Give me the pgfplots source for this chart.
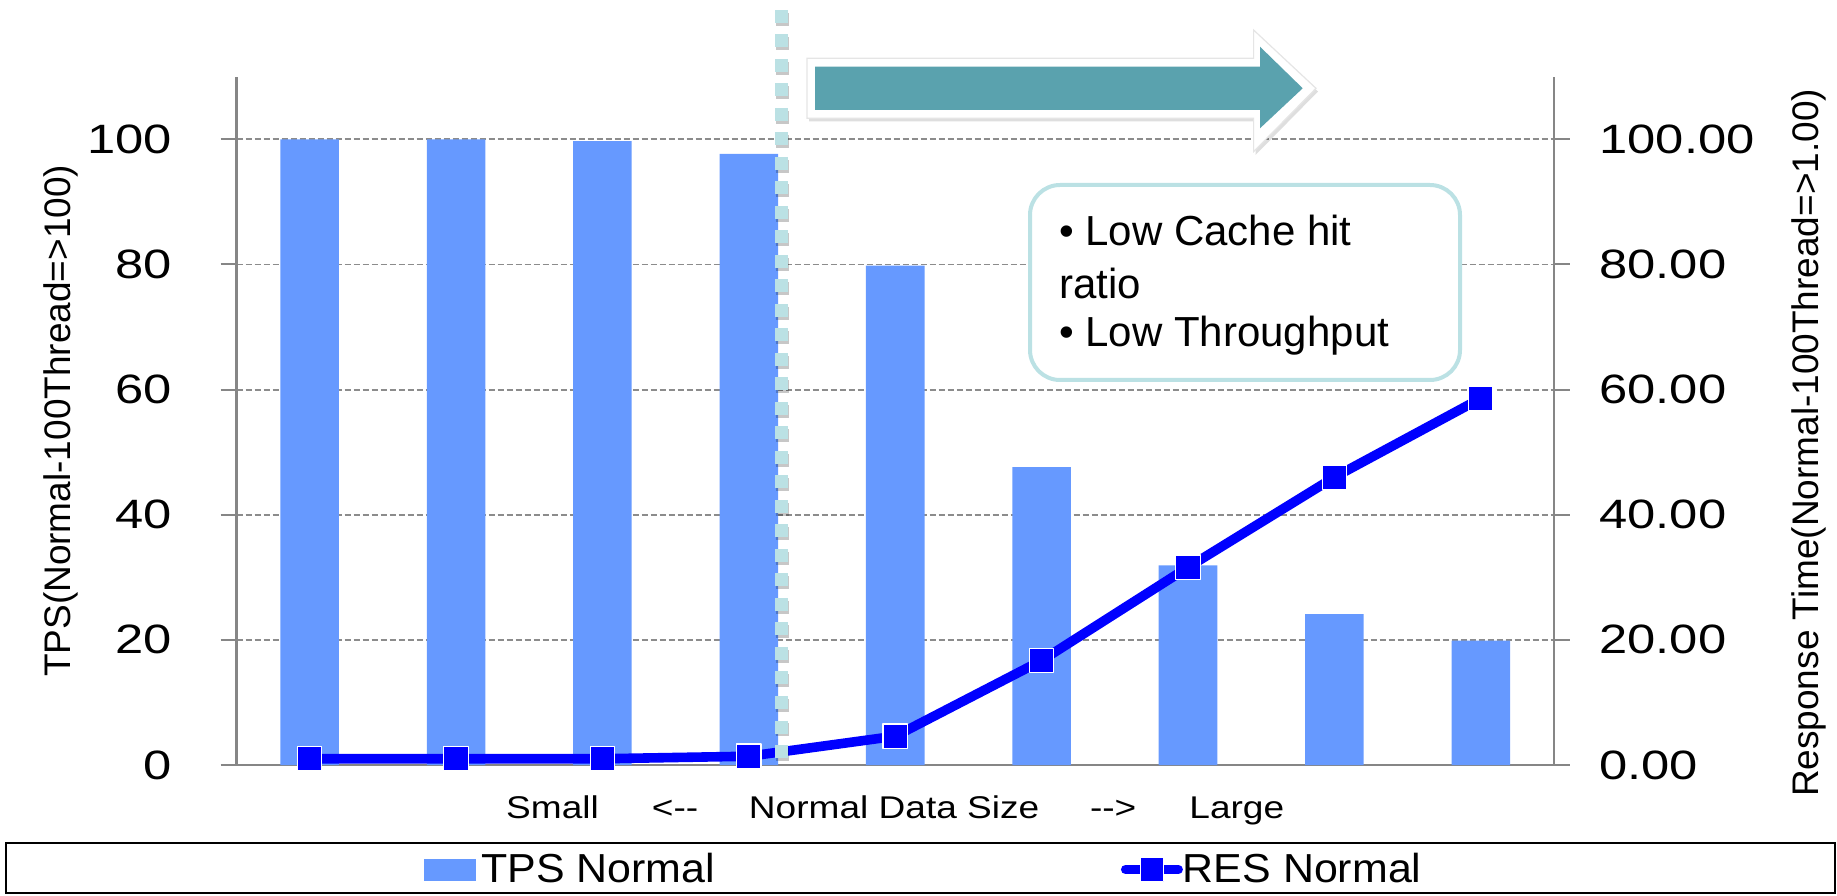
\documentclass[border=0pt]{standalone}
\usepackage{graphicx}
\usepackage{pgfplots}
\pgfplotsset{compat=1.18}
\usepackage{fontspec}
\setmainfont{Liberation Sans}
\definecolor{barblue}{HTML}{6699FF}
\definecolor{lineblue}{HTML}{0000FF}
\definecolor{axisgray}{HTML}{868686}
\definecolor{gridgray}{HTML}{8C8C8C}
\definecolor{arrowteal}{HTML}{5AA2AE}
\definecolor{lteal}{HTML}{BBE1E4}

\pgfplotstableread{
x tps
0 100
1 100
2 99.7
3 97.7
4 79.8
5 47.6
6 31.9
7 24.1
8 19.9
}\tpsdata
\pgfplotstableread{
x res
0 1.0
1 1.0
2 1.0
3 1.4
4 4.6
5 16.7
6 31.6
7 46.0
8 58.6
}\resdata

\pgfplotsset{
  /pgf/number format/assume math mode=true,
  common/.style={
    at={(118.25pt,65pt)}, anchor=south west,
    scale only axis, width=658.75pt, height=344.1pt,
    xmin=-0.5, xmax=8.5, ymin=0, ymax=110,
    ytick={0,20,40,60,80,100},
    axis line style={draw=axisgray, line width=1.3pt},
    tick style={draw=axisgray, line width=1pt},
    major tick length=8pt,
    yticklabel style={font=\fontsize{20.5pt}{24pt}\selectfont, inner sep=0pt},
  }
}

\begin{document}
\begin{tikzpicture}
\useasboundingbox (0,0) rectangle (918.5pt,447.5pt);

\begin{axis}[common,
  axis x line*=bottom, axis y line*=left,
  tick align=outside,
  xtick=\empty,
  ymajorgrids,
  major grid style={draw=gridgray, dash pattern=on 3pt off 1.5pt, line width=0.9pt},
  yticklabel={\scalebox{1.237}[1]{\pgfmathprintnumber{\tick}}},
  yticklabel style={xshift=-24.15pt},
  ylabel={TPS(Normal-100Thread=>100)},
  every axis y label/.style={at={(axis description cs:-0.1335,0.5)}, rotate=90, anchor=center, font=\fontsize{18.5pt}{22pt}\selectfont},
  xlabel={\scalebox{1.18}[1]{Small\hspace{22.5pt}<-{}-\hspace{21.5pt}Normal Data Size\hspace{21.5pt}-{}->\hspace{22.5pt}Large}},
  every axis x label/.style={at={(axis description cs:0.5,-0.07745)}, anchor=base, font=\fontsize{15.7pt}{19pt}\selectfont},
  ybar, bar width=0.4,
]
\addplot[fill=barblue, draw=none] table[x=x, y=tps] {\tpsdata};
\end{axis}

\begin{axis}[common,
  axis x line=none, axis y line*=right,
  tick align=outside,
  clip=false,
  yticklabel={\scalebox{1.237}[1]{\pgfmathprintnumber[fixed,fixed zerofill,precision=2]{\tick}}},
  yticklabel style={xshift=14.55pt},
  ylabel={Response Time(Normal-100Thread=>1.00)},
  every axis y label/.style={at={(axis description cs:1.1936,0.468)}, rotate=90, anchor=center, font=\fontsize{18.5pt}{22pt}\selectfont},
  legend columns=2,
  legend style={at={(axis description cs:0.14231,-0.15185)}, anchor=west,
    draw=none, fill=none, inner sep=0pt, outer sep=0pt,
    font=\fontsize{20.25pt}{24pt}\selectfont,
    nodes={inner sep=0pt},
    /tikz/every even column/.append style={column sep=203pt}},
]
\addlegendimage{legend image code/.code={
  \fill[barblue, draw=none] (0pt,-5.5pt) rectangle (26pt,5.5pt);
  \path[draw=none, fill=none] (0pt,0pt) -- (28.6pt,0pt);}}
\addlegendentry{\scalebox{1.06}[1]{TPS Normal}}
\addplot[draw=lineblue, line width=4.8pt, line join=round,
  mark=square*, mark size=6.1pt,
  mark options={fill=lineblue, draw=white, line width=0.6pt, solid},
  legend image code/.code={
    \draw[lineblue, line width=4.5pt, line cap=round] (2.25pt,0pt) -- (28.75pt,0pt);
    \fill[lineblue, draw=white, line width=0.5pt] (10pt,-6pt) rectangle (21.5pt,6pt);
    \path[draw=none, fill=none] (0pt,0pt) -- (30.5pt,0pt);}
] table[x=x, y=res] {\resdata};
\addlegendentry{\scalebox{1.06}[1]{RES Normal}}
\end{axis}

% dotted vertical separator with faint shadow
\draw[black, opacity=0.22, line width=6.5pt, dash pattern=on 6.5pt off 5.75pt] (391.3pt,441.1pt) -- (391.3pt,63.6pt);
\draw[lteal, line width=6.5pt, dash pattern=on 6.5pt off 5.75pt] (390.75pt,442.5pt) -- (390.75pt,65pt);

% big arrow: soft shadow, white rim, teal body
\begin{scope}[shift={(1pt,-1.6pt)}]
\fill[black, opacity=0.13]
  (403.5pt,418.35pt) -- (626.8pt,418.35pt) -- (626.8pt,432.5pt) -- (658pt,403.35pt)
  -- (626.8pt,371.65pt) -- (626.8pt,388.35pt) -- (403.5pt,388.35pt) -- cycle;
\end{scope}
\filldraw[fill=white, draw=black!10, line width=0.6pt]
  (403.5pt,418.35pt) -- (626.8pt,418.35pt) -- (626.8pt,432.5pt) -- (658pt,403.35pt)
  -- (626.8pt,371.65pt) -- (626.8pt,388.35pt) -- (403.5pt,388.35pt) -- cycle;
\fill[arrowteal]
  (407.5pt,414.15pt) -- (630pt,414.15pt) -- (630pt,424.15pt) -- (651.35pt,403.35pt)
  -- (630pt,383.35pt) -- (630pt,392.5pt) -- (407.5pt,392.5pt) -- cycle;

% callout
\draw[lteal, line width=2pt, fill=white, rounded corners=15pt] (515pt,257.5pt) rectangle (730pt,355pt);
\begin{scope}[every node/.style={anchor=base west, inner sep=0pt, font=\fontsize{21pt}{25pt}\selectfont}]
\node at (529.4pt,324.5pt) {• Low Cache hit};
\node at (529.4pt,298.35pt) {ratio};
\node at (529.4pt,274.15pt) {• Low Throughput};
\end{scope}

% legend frame
\draw[black, line width=1pt] (3pt,1pt) rectangle (917.5pt,26.15pt);
\end{tikzpicture}
\end{document}
